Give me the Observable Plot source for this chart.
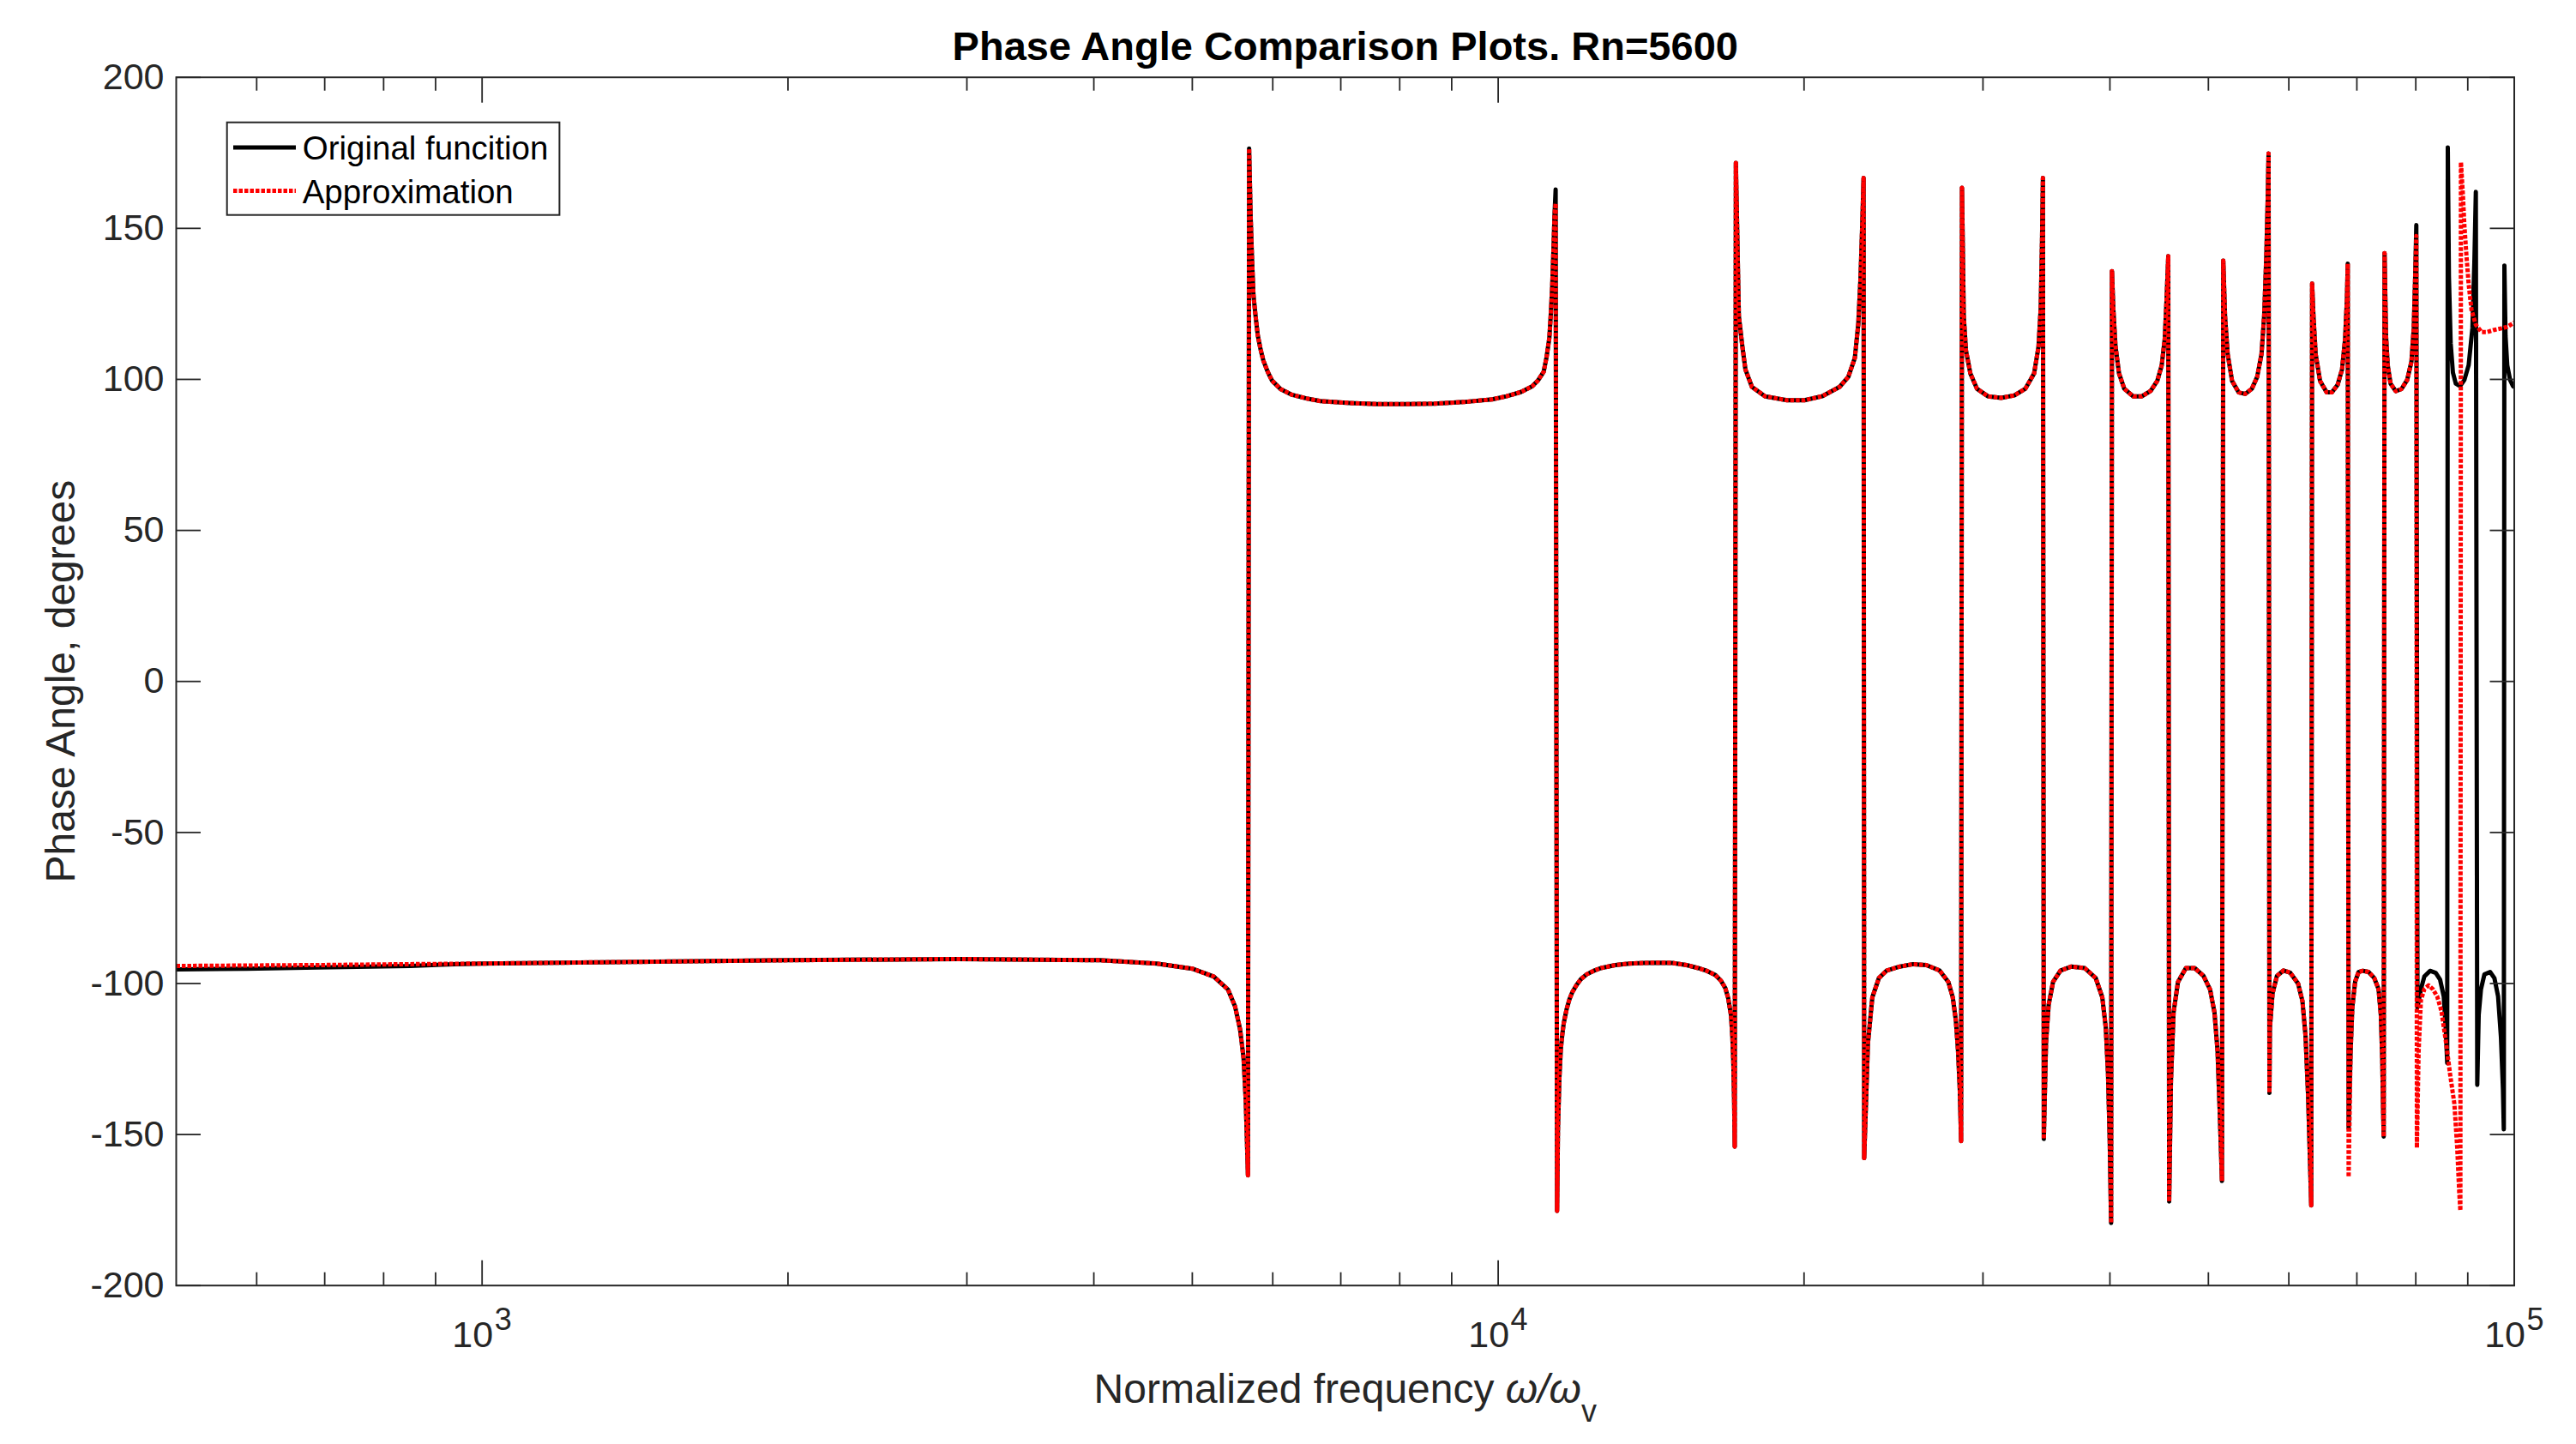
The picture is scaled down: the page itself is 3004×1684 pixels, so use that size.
<!DOCTYPE html>
<html>
<head>
<meta charset="utf-8">
<script src="https://cdn.jsdelivr.net/npm/d3@7"></script>
<script src="https://cdn.jsdelivr.net/npm/@observablehq/plot@0.6"></script>
<style>
html, body { margin: 0; padding: 0; background: #fff; }
#chart { position: relative; width: 3004px; height: 1684px; overflow: hidden; background: #fff; }
#chart svg { position: absolute; left: 0; top: 0; }
</style>
</head>
<body>
<div id="chart"></div>
<script>
// ---------------- data ----------------
const titleText = "Phase Angle Comparison Plots. Rn=5600";
const xLabelText = "Normalized frequency ω/ωv";
const yLabelText = "Phase Angle, degrees";
const legendLabels = ["Original funcition", "Approximation"];

const yTicks = [-200, -150, -100, -50, 0, 50, 100, 150, 200];
const xMajor = [1000, 10000, 100000];
const xExponents = ["3", "4", "5"];
const xMinor = [600, 700, 800, 900, 2000, 3000, 4000, 5000, 6000, 7000, 8000, 9000,
  20000, 30000, 40000, 50000, 60000, 70000, 80000, 90000];

// points common to both curves (normalized frequency, phase in degrees)
const sharedFreq = [1000, 2000, 2938, 4056, 4614, 5000, 5249, 5421, 5509, 5572, 5616, 5644, 5672,
  5687, 5706, 5724, 5743, 5769, 5799, 5836, 5874, 5932, 5990, 6107, 6268, 6474, 6687, 7135, 7612, 8122,
  8666, 9246, 9865, 10190, 10525, 10802, 10942, 11085, 11157, 11230, 11266, 11303, 11340, 11362,
  11428, 11451, 11488, 11525, 11562, 11600, 11676, 11751, 11828, 11943, 12060, 12217, 12417, 12620,
  13036, 13465, 13909, 14367, 14841, 15330, 15732, 16041, 16356, 16569, 16731, 16840, 16949, 17004,
  17037, 17070, 17093,
  17137, 17253, 17391, 17512, 17774, 18310, 19241, 20020, 20830, 21674, 22108, 22440, 22618, 22731,
  22821, 22889,
  22920, 23116, 23347, 23697, 24123, 24855, 25611, 26388, 27189, 27737, 28015, 28211, 28352, 28465, 28550,
  28607, 28721, 28865, 29155, 29594, 30340, 31261, 32209, 33023, 33688, 34026, 34195, 34298, 34366,
  34435, 34606, 34813, 35163, 35764, 36666, 37779, 38732, 39315, 39629, 39828, 39987, 40107,
  40187, 40307, 40509, 40833, 41324, 42156, 43006, 43872, 44532, 44978, 45293, 45474, 45655,
  45747, 45931, 46207, 46670, 47515, 48471, 49448, 50193, 50696, 51050, 51305, 51562,
  51716, 51921, 52233, 52756, 53551, 54359, 55177, 55840, 56399, 56737, 57020, 57191, 57306,
  57420, 57480, 57825, 58404, 59283, 60177, 61263, 61877, 62310, 62684, 62935, 63123,
  63250, 63440, 63758, 64397, 65367, 66153, 67015, 67687, 68160, 68432, 68569,
  69011, 69278, 69729, 70272, 70956, 71882, 72818, 73529, 73911, 74151, 74295, 74390,
  74536, 74778, 75069, 75556, 76445, 77441, 78451, 79218, 79631, 79890];
const sharedPhase = [-93.4, -92.3, -91.9, -92.3, -93.4, -95.1, -97.7, -102.0, -107.6, -115.2, -124.7, -138.9, -163.5,
  176.4, 154.5, 140.3, 128.0, 121.4, 114.7, 110.0, 106.2, 102.5, 99.6, 96.8, 94.9, 93.7, 92.8, 92.2, 91.8, 91.8,
  92.0, 92.5, 93.4, 94.4, 95.8, 97.7, 99.6, 102.5, 107.2, 113.8, 121.4, 130.8, 145.0, 154.5,
  -175.3, -148.3, -131.3, -121.8, -117.1, -113.3, -108.6, -105.3, -102.9, -100.5, -98.6, -97.0, -95.8, -94.9,
  -93.9, -93.4, -93.2, -93.1, -93.2, -93.9, -94.9, -95.8, -97.2, -99.1, -101.5, -104.8, -110.5, -118.0,
  -125.6, -138.9, -154.0,
  171.7, 121.0, 110.9, 103.3, 97.5, 94.4, 93.1, 93.1, 94.4, 97.5, 100.8, 107.1, 118.5, 133.7,
  151.5, 166.7,
  -157.8, -119.8, -104.6, -98.2, -95.7, -94.4, -93.6, -93.9, -95.7, -99.5, -104.6, -112.2, -122.3, -135.0, -152.2,
  163.4, 121.0, 109.6, 102.0, 96.9, 94.4, 93.9, 94.7, 96.9, 102.0, 110.9, 123.6, 146.4, 166.7,
  -151.5, -119.8, -107.1, -99.5, -95.7, -94.4, -94.9, -98.2, -104.6, -114.7, -129.9, -152.7, -179.3,
  135.8, 123.6, 110.9, 102.0, 96.9, 94.4, 94.4, 96.2, 99.5, 104.6, 113.4, 126.1, 140.8,
  -172.2, -132.4, -109.6, -99.5, -94.9, -94.9, -97.5, -102.0, -109.6, -122.3, -142.6, -165.4,
  139.3, 121.0, 108.4, 99.5, 95.7, 95.2, 96.9, 100.8, 108.4, 121.0, 141.3, 159.1, 174.8,
  -136.2, -114.7, -103.3, -97.5, -95.7, -96.4, -100.0, -105.8, -117.2, -137.5, -157.8, -173.5,
  131.7, 121.0, 108.4, 99.5, 95.7, 95.7, 98.2, 103.3, 113.4, 126.1, 138.3,
  -122.6, -108.0, -99.4, -96.2, -95.8, -96.2, -98.2, -101.9, -110.4, -125.1, -142.2, -150.7,
  141.8, 114.4, 104.7, 98.6, 96.1, 96.8, 99.8, 105.9, 116.9, 134.0];

// points only on the original function (black)
const origFreq = [500, 586, 689, 849, 940, 11391, 68705, 80096,
  80304, 80933, 81563, 82627, 83706, 84525, 85239, 85629, 85904,
  86018, 86239, 86576, 87026, 87593, 88448, 89308, 90180, 90950, 91364, 91661,
  91958, 92256, 92736, 93460, 94672, 95595, 96403, 97030, 97472, 97661,
  97788, 98042, 98424, 99063, 99708, 100000];
const origPhase = [-95.3, -95.1, -94.7, -94.2, -93.6, 162.9, -148.0, 151.1,
  -108.0, -101.9, -97.7, -95.8, -96.5, -98.7, -104.3, -115.3, -126.3,
  176.8, 134.0, 112.0, 102.2, 98.6, 97.8, 99.8, 104.7, 116.9, 138.9, 162.1,
  -133.6, -110.4, -101.9, -97.0, -96.2, -98.2, -104.3, -117.8, -134.9, -148.3,
  137.7, 114.4, 104.7, 99.8, 97.8, 97.3];

// points only on the approximation (red)
const approxFreq = [500, 689, 849, 11391, 68705, 80096,
  80202, 80512, 80933, 81563, 82359, 83165, 83978, 84799, 85629, 86464, 87308, 87877, 88277, 88505,
  88619, 89023, 89308, 89772, 90180, 90766, 91661, 92855, 94059, 95595, 97157, 98424, 100000];
const approxPhase = [-94.2, -93.9, -93.6, 158.3, -164.1, 147.5,
  -154.4, -122.6, -105.5, -101.9, -100.6, -101.9, -104.3, -109.2, -119.0, -130.0, -139.8, -154.4, -169.1, -175.2,
  171.9, 160.9, 151.1, 140.1, 131.6, 123.0, 118.1, 115.7, 115.7, 116.4, 116.9, 117.4, 118.8];

// ---------------- assemble ----------------
const toRows = (F, P) => F.map((f, i) => ({f, p: P[i]}));
const byFreq = (a, b) => a.f - b.f;
const shared = toRows(sharedFreq, sharedPhase);
const original = shared.concat(toRows(origFreq, origPhase)).sort(byFreq);
const approximation = shared.concat(toRows(approxFreq, approxPhase)).sort(byFreq);

const FONT = "'Liberation Sans', Arial, Helvetica, sans-serif";
const AXIS = "#262626";
const RED = "#ff0000";
const DASH = "4.5,2";

const tickOpts = {fill: "none", stroke: AXIS, strokeWidth: 1.8, label: null};

const svg = Plot.plot({
  width: 3004,
  height: 1684,
  marginLeft: 205,
  marginRight: 72.5,
  marginTop: 89.7,
  marginBottom: 185.3,
  style: {fontFamily: FONT, background: "#fff", color: AXIS, overflow: "visible"},
  x: {type: "log", domain: [500, 100000], label: null},
  y: {domain: [-200, 200], label: null},
  marks: [
    Plot.line(original, {x: "f", y: "p", stroke: "#000", strokeWidth: 5, strokeLinejoin: "round", strokeLinecap: "butt", clip: true}),
    Plot.line(approximation, {x: "f", y: "p", stroke: RED, strokeWidth: 5, strokeDasharray: DASH, strokeLinejoin: "round", strokeLinecap: "butt", clip: true}),
    Plot.frame({stroke: AXIS, strokeWidth: 2}),
    Plot.axisX({anchor: "bottom", ticks: xMajor, tickSize: -29, ...tickOpts}),
    Plot.axisX({anchor: "bottom", ticks: xMinor, tickSize: -15, ...tickOpts}),
    Plot.axisX({anchor: "top", ticks: xMajor, tickSize: -29, ...tickOpts}),
    Plot.axisX({anchor: "top", ticks: xMinor, tickSize: -15, ...tickOpts}),
    Plot.axisY({anchor: "left", ticks: yTicks, tickSize: -29, ...tickOpts}),
    Plot.axisY({anchor: "right", ticks: yTicks, tickSize: -29, ...tickOpts}),
    // y tick labels
    Plot.text(yTicks, {y: d => d, text: d => String(d), frameAnchor: "left", dx: -14, textAnchor: "end", fontSize: 43, fill: AXIS}),
    // x tick labels 10^n
    Plot.text(xMajor, {x: d => d, text: () => "10", frameAnchor: "bottom", dx: 13, dy: 71.3, textAnchor: "end", lineAnchor: "bottom", fontSize: 43, fill: AXIS}),
    Plot.text(xMajor, {x: d => d, text: (d, i) => xExponents[i], frameAnchor: "bottom", dx: 14.5, dy: 51.3, textAnchor: "start", lineAnchor: "bottom", fontSize: 36, fill: AXIS}),
    // title and axis labels
    Plot.text([titleText], {text: d => d, frameAnchor: "top", dy: -20.7, textAnchor: "middle", lineAnchor: "bottom", fontSize: 47, fontWeight: "bold", fill: "#000"}),
    Plot.text([xLabelText], {text: d => d, frameAnchor: "bottom", dy: 136.3, textAnchor: "middle", lineAnchor: "bottom", fontSize: 48, fill: AXIS}),
    Plot.text([yLabelText], {text: d => d, frameAnchor: "left", dx: -119, rotate: -90, textAnchor: "middle", lineAnchor: "bottom", fontSize: 48, fill: AXIS})
  ]
});

// rich text for the x label: italic omega and subscript v
d3.select(svg).selectAll("text").each(function () {
  if (this.textContent === xLabelText) {
    const t = d3.select(this);
    t.text(null);
    t.append("tspan").text("Normalized frequency ");
    t.append("tspan").attr("font-style", "italic").text("ω/ω");
    t.append("tspan").attr("font-size", 36).attr("dy", 22).text("v");
  }
});

const chart = document.getElementById("chart");
chart.appendChild(svg);

// legend (MATLAB style box, top-left inside the axes)
const leg = d3.create("svg")
  .attr("width", 3004).attr("height", 1684)
  .style("font-family", FONT);
leg.append("rect")
  .attr("x", 264.7).attr("y", 142.7).attr("width", 387.7).attr("height", 108)
  .attr("fill", "#fff").attr("stroke", AXIS).attr("stroke-width", 2);
const rowsY = [172, 222.5];
const strokes = ["#000", RED];
const dashes = [null, DASH];
legendLabels.forEach((lab, i) => {
  leg.append("line")
    .attr("x1", 272).attr("x2", 345).attr("y1", rowsY[i]).attr("y2", rowsY[i])
    .attr("stroke", strokes[i]).attr("stroke-width", 5).attr("stroke-dasharray", dashes[i]);
  leg.append("text")
    .attr("x", 352.7).attr("y", rowsY[i] + 14.3)
    .attr("font-size", 38.5).attr("fill", "#000")
    .text(lab);
});
chart.appendChild(leg.node());
</script>
</body>
</html>
